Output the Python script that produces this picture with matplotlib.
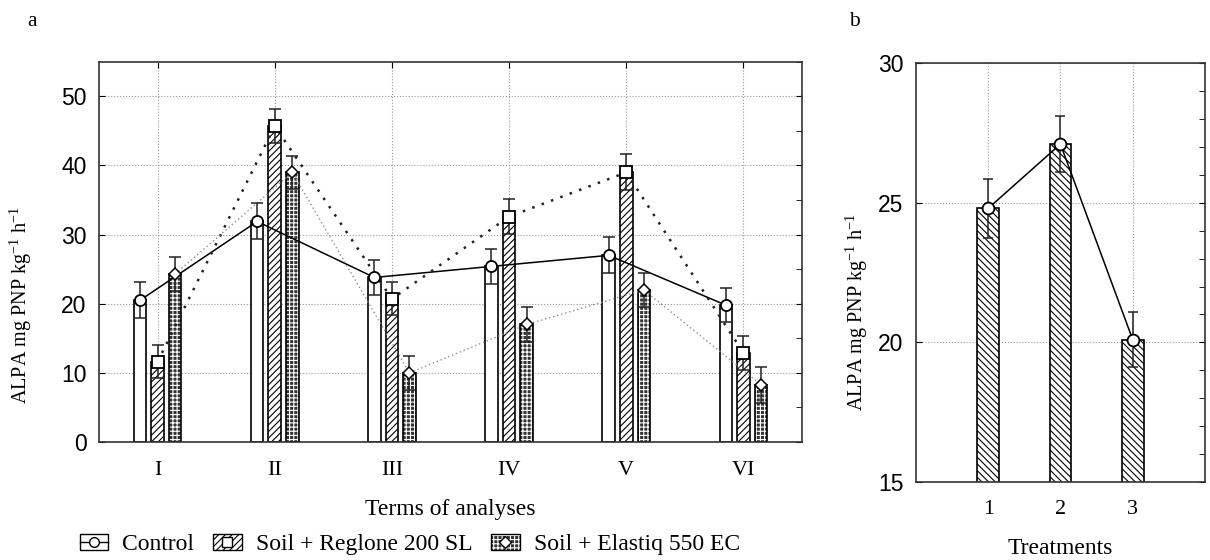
import matplotlib
matplotlib.use('Agg')
from matplotlib import pyplot as plt
from matplotlib.patches import Patch
from matplotlib.lines import Line2D
from matplotlib.ticker import MultipleLocator

# panel a: terms of analyses
terms = ['I', 'II', 'III', 'IV', 'V', 'VI']
control = [20.5, 31.9, 23.8, 25.4, 27.0, 19.8]
control_err = [2.6, 2.6, 2.5, 2.5, 2.6, 2.5]
reglone = [11.6, 45.7, 20.7, 32.6, 39.0, 12.9]
reglone_err = [2.4, 2.5, 2.4, 2.5, 2.6, 2.5]
elastiq = [24.3, 39.0, 10.0, 17.0, 22.0, 8.3]
elastiq_err = [2.5, 2.4, 2.5, 2.5, 2.4, 2.6]

# panel b: treatments
treatments = ['1', '2', '3']
treat_mean = [24.8, 27.1, 20.1]
treat_err = [1.05, 1.0, 1.0]

SERIF = 'Liberation Serif'
SANS = 'Liberation Sans'
plt.rcParams['mathtext.fontset'] = 'custom'
plt.rcParams['mathtext.rm'] = SERIF
plt.rcParams['mathtext.it'] = SERIF + ':italic'
plt.rcParams['hatch.linewidth'] = 0.8

YLABEL = r'ALPA mg PNP kg$^{\mathrm{-1}}$ h$^{\mathrm{-1}}$'

fig = plt.figure(figsize=(12.1, 5.6), dpi=100)
ax = fig.add_axes([0.0818, 0.2107, 0.581, 0.679])
bx = fig.add_axes([0.757, 0.1393, 0.2388, 0.748])


def style_axes(a):
    for s in a.spines.values():
        s.set_linewidth(1.2)
        s.set_color('#333333')
    a.set_axisbelow(True)
    a.grid(True, which='major', linestyle=':', color='#9a9a9a', linewidth=0.8)


# ---- panel a
xs = list(range(1, len(terms) + 1))
off = 0.15
w = 0.107
cx = [x - off for x in xs]
rx = xs
ex = [x + off for x in xs]

ax.bar(cx, control, width=w, facecolor='white', edgecolor='black', linewidth=1.2, zorder=2)
ax.bar(rx, reglone, width=w, facecolor='white', edgecolor='black', hatch='/////', linewidth=1.2, zorder=2)
ax.bar(ex, elastiq, width=w, facecolor='#333333', edgecolor='white', hatch='++++', linewidth=0, zorder=2)
ax.bar(ex, elastiq, width=w, fill=False, edgecolor='black', linewidth=1.2, zorder=2)

ax.plot(cx, control, '-', color='black', lw=1.1, zorder=3)
ax.plot(rx, reglone, linestyle=(0, (1, 3)), color='#222222', lw=1.8, zorder=3)
ax.plot(ex, elastiq, linestyle=(0, (1, 2)), color='#8f8f8f', lw=1.0, zorder=3)

for px, vals, errs in [(cx, control, control_err), (rx, reglone, reglone_err), (ex, elastiq, elastiq_err)]:
    ax.errorbar(px, vals, yerr=errs, fmt='none', ecolor='#222222', elinewidth=1.1,
                capsize=4.5, capthick=1.1, zorder=4)

ax.plot(cx, control, 'o', ms=8, mfc='white', mec='black', mew=1.3, zorder=5)
ax.plot(rx, reglone, 's', ms=8, mfc='white', mec='black', mew=1.3, zorder=5)
ax.plot(ex, elastiq, 'D', ms=6.5, mfc='white', mec='black', mew=1.1, zorder=5)

ax.set_xlim(0.5, 6.5)
ax.set_ylim(0, 55)
ax.set_xticks(xs)
ax.set_xticklabels(terms, fontfamily=SERIF, fontsize=16)
ax.set_yticks(range(0, 51, 10))
ax.yaxis.set_minor_locator(MultipleLocator(5))
for lab in ax.get_yticklabels():
    lab.set_fontfamily(SANS)
    lab.set_fontsize(16.5)
ax.tick_params(axis='x', which='major', direction='in', top=True, bottom=False, length=4, pad=14)
ax.tick_params(axis='y', which='major', direction='in', left=True, right=True, length=4, pad=9)
ax.tick_params(axis='y', which='minor', direction='in', left=False, right=True, length=4)
style_axes(ax)
ax.set_xlabel('Terms of analyses', fontfamily=SERIF, fontsize=17, labelpad=13)
ax.set_ylabel(YLABEL, fontfamily=SERIF, fontsize=14.5)
ax.yaxis.set_label_coords(-0.093, 0.36)

# ---- panel b
bxs = list(range(1, len(treatments) + 1))
bx.bar(bxs, treat_mean, width=0.3, facecolor='white', edgecolor='black',
       hatch='\\\\\\\\\\', linewidth=1.2, zorder=2)
bx.plot(bxs, treat_mean, '-', color='black', lw=1.1, zorder=3)
bx.errorbar(bxs, treat_mean, yerr=treat_err, fmt='none', ecolor='#222222', elinewidth=1.1,
            capsize=3.5, capthick=1.1, zorder=4)
bx.plot(bxs, treat_mean, 'o', ms=8.5, mfc='white', mec='black', mew=1.3, zorder=5)
bx.set_xlim(0, 4)
bx.set_ylim(15, 30)
bx.set_xticks(bxs)
bx.set_xticklabels(treatments, fontfamily=SERIF, fontsize=16)
bx.set_yticks([15, 20, 25, 30])
bx.yaxis.set_minor_locator(MultipleLocator(1))
for lab in bx.get_yticklabels():
    lab.set_fontfamily(SANS)
    lab.set_fontsize(16.5)
bx.tick_params(axis='x', which='major', direction='in', top=False, bottom=False, pad=13)
bx.tick_params(axis='y', which='major', direction='in', left=True, right=True, length=4, pad=9)
bx.tick_params(axis='y', which='minor', direction='in', left=False, right=True, length=4)
style_axes(bx)
bx.set_xlabel('Treatments', fontfamily=SERIF, fontsize=17, labelpad=14)
bx.set_ylabel(YLABEL, fontfamily=SERIF, fontsize=14.5)
bx.yaxis.set_label_coords(-0.159, 0.406)

# ---- panel letters
fig.text(0.0265, 0.961, 'a', fontfamily=SERIF, fontsize=15.5, ha='center', va='center')
fig.text(0.7065, 0.962, 'b', fontfamily=SERIF, fontsize=15.5, ha='center', va='center')

# ---- legend
h_control = (Patch(facecolor='white', edgecolor='black'),
             Line2D([], [], color='black', lw=1.0, marker='o', ms=7, mfc='white', mec='black'))
h_reglone = (Patch(facecolor='white', edgecolor='black', hatch='/////'),
             Line2D([], [], ls='none', marker='s', ms=7, mfc='white', mec='black'))
h_elastiq = (Patch(facecolor='#333333', edgecolor='white', hatch='++++', linewidth=0),
             Patch(fill=False, edgecolor='black'),
             Line2D([], [], ls='none', marker='D', ms=6, mfc='white', mec='black'))
fig.legend([h_control, h_reglone, h_elastiq],
           ['Control', 'Soil + Reglone 200 SL', 'Soil + Elastiq 550 EC'],
           loc='center left', bbox_to_anchor=(0.066, 0.027), ncol=3, frameon=False,
           prop={'family': SERIF, 'size': 17}, handlelength=1.2, handleheight=0.65,
           handletextpad=0.6, columnspacing=0.8, borderpad=0, borderaxespad=0)

fig.savefig('out.png', dpi=100)
